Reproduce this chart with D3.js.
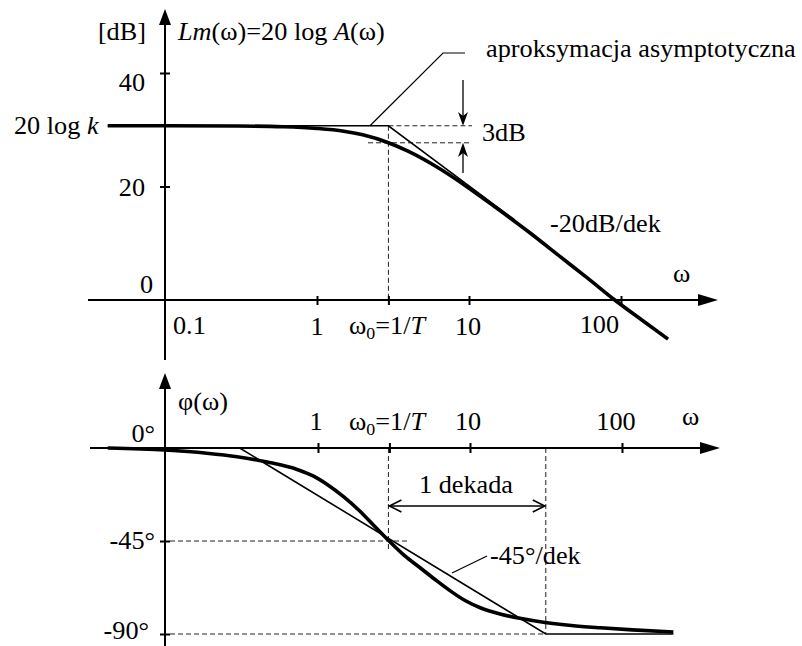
<!DOCTYPE html>
<html>
<head>
<meta charset="utf-8">
<script src="https://cdn.jsdelivr.net/npm/d3@7/dist/d3.min.js"></script>
<style>
  html, body { margin: 0; padding: 0; background: #fff; }
  svg { display: block; }
  text { font-family: "Liberation Serif", "Times New Roman", serif; font-size: 25px; fill: #000; }
</style>
</head>
<body>
<svg id="chart" width="802" height="646"></svg>
<script>
// ---- data ----
const omega0 = 2.95;
// magnitude curve Lm(ω) [dB]
const magOmega = [0.042, 0.1, 0.3, 0.6, 1.0, 1.5, 2.0, 2.95, 4, 6, 10, 15, 25, 40, 60, 91, 140, 204];
const magDb    = [30.7, 30.7, 30.66, 30.53, 30.23, 29.74, 29.1, 27.7, 26.17, 23.6, 19.7, 16.3, 11.9, 7.6, 3.9, 0.0, -3.7, -6.9];
// asymptotic approximation (magnitude)
const magAsymOmega = [0.042, omega0, 20];
const magAsymDb    = [30.7, 30.7, 14.1];
// phase curve φ(ω) [deg]
const phOmega = [0.042, 0.1, 0.188, 0.298, 0.47, 0.748, 0.942, 1.186, 1.494, 1.88, 2.367, 2.98, 3.75, 4.72, 5.95, 7.49, 9.42, 11.87, 16.0, 21.6, 31.6, 47.2, 73.1, 118.7, 221];
const phDeg   = [0, -1.0, -2.5, -4.2, -6.8, -10.5, -13.5, -18, -23.5, -30, -37.5, -45, -52, -57.7, -63.5, -69, -73.8, -77.3, -80.3, -82.4, -84.4, -85.9, -87, -88, -89];
// asymptotic approximation (phase)
const phAsymOmega = [0.042, 0.31, 32, 221];
const phAsymDeg   = [0, 0, -90, -90];
// ticks
const xTickValues = [1, omega0, 10, 100];
const magTickValues = [20, 40];
const magTickLabels = ["20", "40"];
const phTickValues = [-45, -90];
const phTickLabels = ["-45°", "-90°"];
const kDb = 30.7;

// ---- scales ----
const x = d3.scaleLog().domain([0.1, 100]).range([165, 621]);
const yM = d3.scaleLinear().domain([0, 40]).range([300, 73]);
const yP = d3.scaleLinear().domain([-90, 0]).range([634, 448]);

const svg = d3.select("#chart");
const SX = 1.05; // horizontal stretch of the original lettering

function label(parts, px, py, anchor) {
  const t = svg.append("text")
    .attr("transform", `translate(${px},${py}) scale(${SX},1)`)
    .attr("text-anchor", anchor || "start");
  parts.forEach(p => {
    const s = t.append("tspan").text(p.t);
    if (p.i) s.attr("font-style", "italic");
    if (p.sub) s.attr("font-size", "17px").attr("dy", 5);
    if (p.up) s.attr("dy", -5);
  });
  return t;
}
const omegaLabel = [{t: "ω"}, {t: "0", sub: true}, {t: "=1/", up: true}, {t: "T", i: true}];

function arrowHead(tx, ty, dir) { // filled triangular head
  let pts;
  if (dir === "right") pts = [[tx, ty], [tx - 20, ty - 6], [tx - 20, ty + 6]];
  if (dir === "up") pts = [[tx, ty], [tx - 6, ty + 16], [tx + 6, ty + 16]];
  svg.append("polygon").attr("points", pts.map(p => p.join(",")).join(" ")).attr("fill", "#000");
}

// ================= TOP: magnitude =================
const dash = "5,3";
svg.append("line").attr("x1", x(omega0)).attr("x2", x(omega0)).attr("y1", yM(kDb)).attr("y2", yM(0))
  .attr("stroke", "#222").attr("stroke-width", 1).attr("stroke-dasharray", dash);
svg.append("line").attr("x1", x(omega0)).attr("x2", 472).attr("y1", yM(kDb)).attr("y2", yM(kDb))
  .attr("stroke", "#222").attr("stroke-width", 1).attr("stroke-dasharray", dash);
svg.append("line").attr("x1", 368).attr("x2", 472).attr("y1", yM(kDb - 3)).attr("y2", yM(kDb - 3))
  .attr("stroke", "#222").attr("stroke-width", 1).attr("stroke-dasharray", dash);

// axes
svg.append("line").attr("x1", 88).attr("x2", 700).attr("y1", yM(0)).attr("y2", yM(0)).attr("stroke", "#000").attr("stroke-width", 2);
arrowHead(718, yM(0), "right");
svg.append("line").attr("x1", 165).attr("x2", 165).attr("y1", 360).attr("y2", 24).attr("stroke", "#000").attr("stroke-width", 2);
arrowHead(165, 9, "up");

const gxTop = svg.append("g").attr("transform", `translate(0,${yM(0) - 4})`)
  .call(d3.axisBottom(x).tickValues(xTickValues).tickSize(9).tickFormat(""));
gxTop.select(".domain").remove();
gxTop.selectAll("line").attr("stroke", "#000").attr("stroke-width", 2);

const gyTop = svg.append("g").attr("transform", "translate(160,0)")
  .call(d3.axisRight(yM).tickValues(magTickValues).tickSize(10).tickFormat(""));
gyTop.select(".domain").remove();
gyTop.selectAll("line").attr("stroke", "#000").attr("stroke-width", 2);

const lineM = d3.line().x(d => x(d[0])).y(d => yM(d[1]));
svg.append("path").datum(d3.zip(magAsymOmega, magAsymDb)).attr("d", lineM)
  .attr("fill", "none").attr("stroke", "#000").attr("stroke-width", 1.6);
svg.append("path").datum(d3.zip(magOmega, magDb)).attr("d", lineM.curve(d3.curveMonotoneX))
  .attr("fill", "none").attr("stroke", "#000").attr("stroke-width", 3.6);

svg.append("polyline").attr("points", `370,${yM(kDb)} 443,53 465,53`)
  .attr("fill", "none").attr("stroke", "#000").attr("stroke-width", 1.2);
svg.append("line").attr("x1", 463).attr("x2", 463).attr("y1", 80).attr("y2", 118).attr("stroke", "#000").attr("stroke-width", 1.3);
svg.append("polygon").attr("points", `463,${yM(kDb)} 458,112 463,116 468,112`).attr("fill", "#000");
svg.append("line").attr("x1", 463).attr("x2", 463).attr("y1", 173).attr("y2", 150).attr("stroke", "#000").attr("stroke-width", 1.3);
svg.append("polygon").attr("points", `463,${yM(kDb - 3)} 458,157 463,153 468,157`).attr("fill", "#000");

label([{t: "[dB]"}], 146, 40, "end");
label([{t: "Lm", i: true}, {t: "(ω)=20 log "}, {t: "A", i: true}, {t: "(ω)"}], 178, 40);
magTickValues.forEach((v, i) => label([{t: magTickLabels[i]}], 145, yM(v) + (i === 0 ? 9 : 18), "end"));
label([{t: "20 log "}, {t: "k", i: true}], 14, 134);
label([{t: "0"}], 153, 293, "end");
label([{t: "0.1"}], 173, 334);
label([{t: "1"}], x(1), 335, "middle");
label(omegaLabel, 349, 334);
label([{t: "10"}], x(10) - 1, 335, "middle");
label([{t: "100"}], x(100) - 2, 333, "end");
label([{t: "ω"}], 673, 282);
label([{t: "aproksymacja asymptotyczna"}], 486, 57);
label([{t: "3dB"}], 482, 141);
label([{t: "-20dB/dek"}], 550, 232);

// ================= BOTTOM: phase =================
svg.append("line").attr("x1", 170).attr("x2", 410).attr("y1", yP(-45)).attr("y2", yP(-45))
  .attr("stroke", "#222").attr("stroke-width", 1).attr("stroke-dasharray", dash);
svg.append("line").attr("x1", 170).attr("x2", x(32)).attr("y1", yP(-90)).attr("y2", yP(-90))
  .attr("stroke", "#222").attr("stroke-width", 1).attr("stroke-dasharray", dash);
svg.append("line").attr("x1", x(omega0)).attr("x2", x(omega0)).attr("y1", yP(0)).attr("y2", 550)
  .attr("stroke", "#222").attr("stroke-width", 1).attr("stroke-dasharray", dash);
svg.append("line").attr("x1", x(32)).attr("x2", x(32)).attr("y1", yP(0)).attr("y2", yP(-90))
  .attr("stroke", "#222").attr("stroke-width", 1).attr("stroke-dasharray", dash);

svg.append("line").attr("x1", 90).attr("x2", 702).attr("y1", yP(0)).attr("y2", yP(0)).attr("stroke", "#000").attr("stroke-width", 2);
arrowHead(720, yP(0), "right");
svg.append("line").attr("x1", 165).attr("x2", 165).attr("y1", 646).attr("y2", 388).attr("stroke", "#000").attr("stroke-width", 2);
arrowHead(165, 373, "up");

const gxBot = svg.append("g").attr("transform", `translate(1,${yP(0) - 5})`)
  .call(d3.axisBottom(x).tickValues(xTickValues).tickSize(10).tickFormat(""));
gxBot.select(".domain").remove();
gxBot.selectAll("line").attr("stroke", "#000").attr("stroke-width", 2);

const gyBot = svg.append("g").attr("transform", "translate(160,0)")
  .call(d3.axisRight(yP).tickValues(phTickValues).tickSize(10).tickFormat(""));
gyBot.select(".domain").remove();
gyBot.selectAll("line").attr("stroke", "#000").attr("stroke-width", 2);

const lineP = d3.line().x(d => x(d[0])).y(d => yP(d[1]));
svg.append("path").datum(d3.zip(phAsymOmega, phAsymDeg)).attr("d", lineP)
  .attr("fill", "none").attr("stroke", "#000").attr("stroke-width", 1.6);
svg.append("path").datum(d3.zip(phOmega, phDeg)).attr("d", lineP.curve(d3.curveMonotoneX))
  .attr("fill", "none").attr("stroke", "#000").attr("stroke-width", 3.6);

svg.append("line").attr("x1", x(omega0) + 1).attr("x2", x(32) - 1).attr("y1", 506).attr("y2", 506).attr("stroke", "#000").attr("stroke-width", 1.3);
svg.append("polyline").attr("points", `${x(omega0) + 13},500 ${x(omega0) + 1},506 ${x(omega0) + 13},512`)
  .attr("fill", "none").attr("stroke", "#000").attr("stroke-width", 1.6);
svg.append("polyline").attr("points", `${x(32) - 13},500 ${x(32) - 1},506 ${x(32) - 13},512`)
  .attr("fill", "none").attr("stroke", "#000").attr("stroke-width", 1.6);
svg.append("line").attr("x1", 452).attr("y1", 573).attr("x2", 487).attr("y2", 556).attr("stroke", "#000").attr("stroke-width", 1.2);

label([{t: "φ(ω)"}], 178, 410);
label([{t: "0°"}], 155, 442, "end");
phTickValues.forEach((v, i) => label([{t: phTickLabels[i]}], i === 0 ? 155 : 149, yP(v) + (i === 0 ? 8 : 5), "end"));
label([{t: "1"}], x(1) - 1, 430, "middle");
label(omegaLabel, 349, 430);
label([{t: "10"}], x(10) - 1, 430, "middle");
label([{t: "100"}], x(100) - 5, 430, "middle");
label([{t: "ω"}], 682, 425);
label([{t: "1 dekada"}], 419, 493);
label([{t: "-45°/dek"}], 490, 564);
</script>
</body>
</html>
